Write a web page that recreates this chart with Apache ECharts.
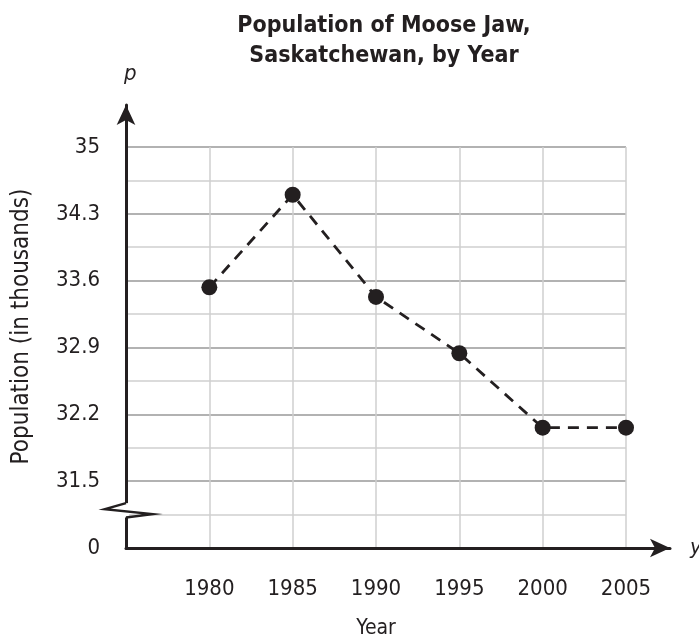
<!DOCTYPE html>
<html>
<head>
<meta charset="utf-8">
<script src="https://cdn.jsdelivr.net/npm/echarts@6/dist/echarts.min.js"></script>
<style>
  html, body { margin: 0; padding: 0; background: #fff; }
  #chart { width: 699px; height: 642px; }
</style>
</head>
<body>
<div id="chart"></div>
<script>
var years = [1980, 1985, 1990, 1995, 2000, 2005];
var population = [33.53, 34.5, 33.43, 32.84, 32.06, 32.06];
var yMin = 30.8, yMax = 35, yStep = 0.35;

var font = '"DejaVu Sans Condensed", "Liberation Sans Narrow", sans-serif';
var chart = echarts.init(document.getElementById('chart'));

var points = years.map(function (y, i) { return [y, population[i]]; });

chart.setOption({
    animation: false,
    textStyle: { fontFamily: font, color: '#231f20' },
    title: {
        text: 'Population of Moose Jaw,\nSaskatchewan, by Year',
        left: 379, top: 6, textAlign: 'center',
        textStyle: { fontFamily: font, fontSize: 23, fontWeight: 'bold', color: '#231f20', lineHeight: 30 }
    },
    grid: [
        { left: 126, right: 73, top: 147, bottom: 94, outerBoundsMode: 'none' },
        { left: 126, right: 29, top: 105, bottom: 94, outerBoundsMode: 'none' }
    ],
    xAxis: [{
        gridIndex: 0, type: 'value', min: 1975, max: 2005, interval: 5,
        name: 'Year', nameLocation: 'middle', nameGap: 70,
        nameTextStyle: { fontFamily: font, fontSize: 21, color: '#231f20' },
        axisLine: { show: false }, axisTick: { show: false },
        axisLabel: {
            margin: 30, fontSize: 22, color: '#231f20', fontFamily: font,
            formatter: function (v) { return v === 1975 ? '' : String(v); }
        },
        splitLine: { show: true, lineStyle: { color: '#cfcfcf', width: 1.5 } }
    }, {
        gridIndex: 1, type: 'value', min: 0, max: 1,
        name: 'y', nameLocation: 'end', nameGap: 20,
        nameTextStyle: { fontFamily: font, fontSize: 22, fontStyle: 'italic', color: '#231f20', padding: [10, 0, 0, 0] },
        axisLine: { show: true, symbol: ['none', 'arrow'], symbolSize: [14, 20], lineStyle: { color: '#231f20', width: 3 } },
        axisTick: { show: false }, axisLabel: { show: false }, splitLine: { show: false }
    }],
    yAxis: [{
        gridIndex: 0, type: 'value', min: yMin, max: yMax, interval: yStep,
        name: 'p', nameLocation: 'end', nameGap: 62,
        nameTextStyle: { fontFamily: font, fontSize: 22, fontStyle: 'italic', color: '#231f20', align: 'left', padding: [0, 0, 0, -2] },
        axisLine: { show: false }, axisTick: { show: false },
        axisLabel: {
            margin: 26, fontSize: 22, color: '#231f20', fontFamily: font,
            formatter: function (v) {
                var k = Math.round((v - yMin) / yStep);
                if (k % 2 === 1) return '';
                if (k === 0) return '0';
                return String(Math.round(v * 10) / 10);
            }
        },
        splitLine: { show: true, lineStyle: { color: ['#999999', '#cfcfcf'], width: 1.5 } }
    }, {
        gridIndex: 1, type: 'value', min: 0, max: 1,
        name: 'Population (in thousands)', nameLocation: 'middle', nameGap: 92,
        nameTextStyle: { fontFamily: font, fontSize: 24, color: '#231f20' },
        axisLine: { show: true, symbol: ['none', 'arrow'], symbolSize: [14, 20], lineStyle: { color: '#231f20', width: 3 } },
        axisTick: { show: false }, axisLabel: { show: false }, splitLine: { show: false }
    }],
    series: [{
        type: 'line',
        xAxisIndex: 0, yAxisIndex: 0,
        data: points,
        symbol: 'circle', symbolSize: 16,
        itemStyle: { color: '#231f20' },
        lineStyle: { color: '#231f20', width: 2.8, type: [11, 8] },
        z: 5
    }]
});

// zigzag break on the y axis, placed through the axis scale
var breakTop = chart.convertToPixel({ seriesIndex: 0 }, [1975, 31.27]);
var breakBot = chart.convertToPixel({ seriesIndex: 0 }, [1975, 31.12]);
var ax = breakTop[0], y1 = breakTop[1], y2 = breakBot[1];
chart.setOption({
    graphic: [{
        type: 'rect', z: 100,
        shape: { x: ax - 3, y: y1, width: 6, height: y2 - y1 },
        style: { fill: '#fff' }
    }, {
        type: 'polyline', z: 101,
        shape: { points: [[ax, y1], [ax - 21, y1 + 6], [ax + 26, y1 + 11], [ax, y2]] },
        style: { stroke: '#231f20', lineWidth: 2.5, fill: 'none' }
    }]
});
</script>
</body>
</html>
